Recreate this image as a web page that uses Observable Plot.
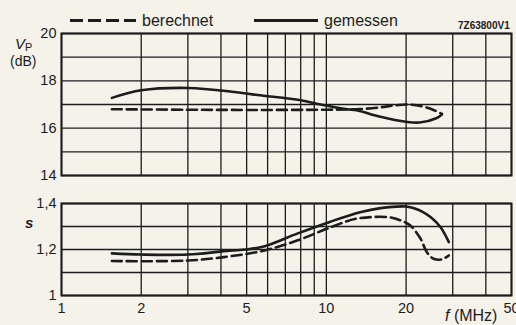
<!DOCTYPE html>
<html><head><meta charset="utf-8">
<script src="https://cdn.jsdelivr.net/npm/d3@7"></script>
<script src="https://cdn.jsdelivr.net/npm/@observablehq/plot@0.6"></script>
<style>
html,body{margin:0;padding:0;background:#f5f2ea;overflow:hidden;}
#wrap{position:relative;width:516px;height:325px;font-family:"Liberation Sans",Arial,sans-serif;color:#1c1c1c;}
.abs{position:absolute;white-space:nowrap;line-height:1;}
</style></head><body><div id="wrap"></div>
<script>
// ---- data ----
const xTickLabels = [1, 2, 5, 10, 20, 50];
const xGrid = [1, 2, 3, 4, 5, 6, 7, 8, 9, 10, 20, 30, 40, 50];
const vpTicks = [14, 16, 18, 20];
const vpGrid = [14, 15, 16, 17, 18, 19, 20];
const sTicks = [1, 1.2, 1.4];
const sGrid = [1, 1.1, 1.2, 1.3, 1.4];

// V_P berechnet (dashed)
const fVpCalc  = [1.55, 3, 5, 10, 13, 16, 18, 20.5, 23, 25, 27.3];
const vpCalc   = [16.8, 16.78, 16.77, 16.78, 16.8, 16.88, 16.96, 17.0, 16.92, 16.8, 16.6];
// V_P gemessen (solid)
const fVpMeas  = [1.55, 2, 3, 4.5, 5.5, 8, 9.5, 12, 13, 16, 20, 22.5, 26, 27.3];
const vpMeas   = [17.28, 17.6, 17.7, 17.53, 17.4, 17.18, 17.0, 16.8, 16.76, 16.48, 16.27, 16.24, 16.42, 16.58];
// s berechnet (dashed)
const fSCalc   = [1.55, 3, 4.3, 5.8, 7.8, 10.3, 13, 17.3, 19.1, 20.7, 22.6, 24, 25.4, 27.3, 29];
const sCalc    = [1.15, 1.152, 1.17, 1.195, 1.24, 1.295, 1.334, 1.34, 1.326, 1.305, 1.25, 1.187, 1.16, 1.157, 1.174];
// s gemessen (solid)
const fSMeas   = [1.55, 2, 3, 4.3, 5, 5.8, 7.8, 10.3, 13.4, 16, 20, 21.3, 23, 24.8, 27, 29];
const sMeas    = [1.183, 1.178, 1.178, 1.195, 1.2, 1.213, 1.27, 1.32, 1.362, 1.38, 1.387, 1.38, 1.365, 1.34, 1.297, 1.232];

// ---- drawing ----
const ink = "#1c1c1c";
const font = '"Liberation Sans", Arial, sans-serif';
const zip = (xs, ys) => xs.map((x, i) => ({x, y: ys[i]}));
const comma = d => String(d).replace(".", ",");

function panel({height, mt, mb, ydom, grid, ticks, calc, meas, xaxis}) {
  return Plot.plot({
    width: 516, height,
    marginLeft: 61, marginRight: 5, marginTop: mt, marginBottom: mb,
    style: {background: "transparent", fontFamily: font, color: ink, overflow: "visible"},
    x: {type: "log", domain: [1, 50], axis: null},
    y: {domain: ydom, axis: null},
    marks: [
      Plot.ruleX(xGrid, {stroke: ink, strokeWidth: 1.3}),
      Plot.ruleY(grid, {stroke: ink, strokeWidth: 1.3}),
      Plot.frame({stroke: ink, strokeWidth: 2}),
      Plot.axisY({ticks, tickSize: 0, tickPadding: 5, fontSize: 14.5, tickFormat: comma, label: null}),
      xaxis ? Plot.axisX({ticks: xTickLabels, tickSize: 0, tickPadding: 7, fontSize: 14.5, tickFormat: d => String(d), label: null}) : null,
      Plot.line(calc, {x: "x", y: "y", stroke: ink, strokeWidth: 2.6, strokeDasharray: "10,5", curve: "catmull-rom"}),
      Plot.line(meas, {x: "x", y: "y", stroke: ink, strokeWidth: 2.6, curve: "catmull-rom"})
    ]
  });
}

const wrap = document.getElementById("wrap");
const top1 = panel({height: 185, mt: 33, mb: 10, ydom: [14, 20], grid: vpGrid, ticks: vpTicks,
  calc: zip(fVpCalc, vpCalc), meas: zip(fVpMeas, vpMeas), xaxis: false});
const bot = panel({height: 140, mt: 18, mb: 30, ydom: [1, 1.4], grid: sGrid, ticks: sTicks,
  calc: zip(fSCalc, sCalc), meas: zip(fSMeas, sMeas), xaxis: true});
const d1 = document.createElement("div"); d1.className = "abs"; d1.style.left = "0px"; d1.style.top = "0px"; d1.appendChild(top1);
const d2 = document.createElement("div"); d2.className = "abs"; d2.style.left = "0px"; d2.style.top = "185px"; d2.appendChild(bot);
wrap.appendChild(d1); wrap.appendChild(d2);

function label(html, css) {
  const d = document.createElement("div");
  d.className = "abs"; d.innerHTML = html;
  Object.assign(d.style, css);
  wrap.appendChild(d);
}
// legend
label("", {left: "70px", top: "19px", width: "66px", height: "3px",
  background: `repeating-linear-gradient(to right, ${ink} 0 13px, transparent 13px 18px)`});
label("berechnet", {left: "142px", top: "12.5px", fontSize: "16px"});
label("", {left: "254px", top: "19px", width: "64px", height: "3px", background: ink});
label("gemessen", {left: "324px", top: "12.5px", fontSize: "16px"});
label("7Z63800V1", {left: "458px", top: "20.5px", fontSize: "10px", fontWeight: "bold"});
// axis titles
label("<i>V</i>", {left: "15px", top: "36px", fontSize: "15px"});
label("P", {left: "25px", top: "41.5px", fontSize: "11px"});
label("(dB)", {left: "10px", top: "53.5px", fontSize: "14px"});
label("<i>s</i>", {left: "25px", top: "215px", fontSize: "15px", fontWeight: "bold"});
label("<i>f</i> (MHz)", {left: "445px", top: "308px", fontSize: "16px"});
</script></body></html>
